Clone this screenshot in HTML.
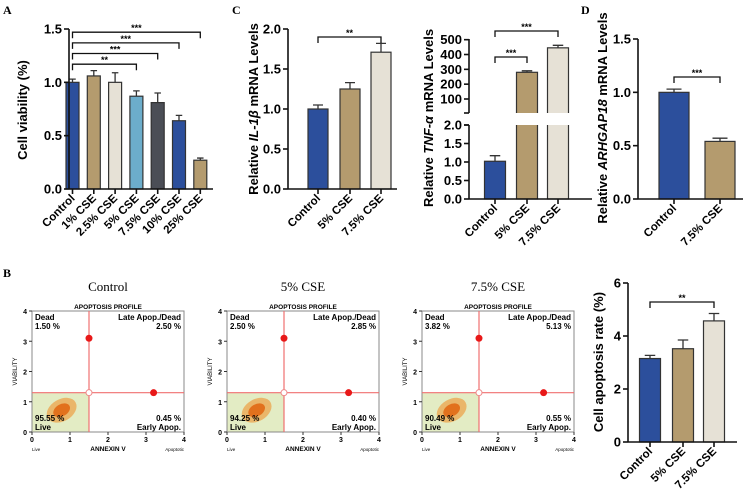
<!DOCTYPE html>
<html><head><meta charset="utf-8"><style>
body{margin:0;background:#fff}
svg{display:block;font-family:"Liberation Sans",Arial,sans-serif}
</style></head><body>
<svg id="s" width="753" height="499" viewBox="0 0 753 499"></svg>
<script>
// Panel A data
const aCats=["Control","1% CSE","2.5% CSE","5% CSE","7.5% CSE","10% CSE","25% CSE"];
const aVals=[1.0,1.06,1.0,0.87,0.81,0.64,0.27];
const aErr=[0.03,0.05,0.09,0.05,0.09,0.05,0.02];
const aTicks=[0,0.5,1.0,1.5];
// Panel C IL-1b
const cCats=["Control","5% CSE","7.5% CSE"];
const cVals=[1.0,1.25,1.71];
const cErr=[0.05,0.08,0.11];
const cTicks=[0,0.5,1.0,1.5,2.0];
// Panel C TNF-a
const tVals=[1.02,280,445];
const tErr=[0.15,10,17];
const tTicksLow=[0,0.5,1.0,1.5,2.0];
const tTicksHigh=[100,200,300,400,500];
// Panel D
const dCats=["Control","7.5% CSE"];
const dVals=[1.0,0.54];
const dErr=[0.03,0.03];
const dTicks=[0,0.5,1.0,1.5];
// Apoptosis rate
const rVals=[3.15,3.52,4.57];
const rErr=[0.12,0.33,0.28];
const rTicks=[0,2,4,6];
// Flow cytometry quadrant values
const flowTitles=["Control","5% CSE","7.5% CSE"];
const flowDead=["1.50 %","2.50 %","3.82 %"];
const flowLate=["2.50 %","2.85 %","5.13 %"];
const flowLive=["95.55 %","94.25 %","90.49 %"];
const flowEarly=["0.45 %","0.40 %","0.55 %"];

const S=document.getElementById('s');
const NS="http://www.w3.org/2000/svg";
function el(tag,attrs,parent){const e=document.createElementNS(NS,tag);for(const k in attrs)e.setAttribute(k,attrs[k]);(parent||S).appendChild(e);return e;}
function txt(x,y,t,attrs,parent){const e=el('text',Object.assign({x:x,y:y},attrs),parent);e.textContent=t;return e;}
const BLUE="#2c4f9c",TAN="#b49b6e",LIGHT="#e6e1d6",LBLUE="#6cadcb",DARK="#4b4e56";

function bars(g,xs,vals,errs,w,yf,colors){
  vals.forEach((v,i)=>{
    const x=xs[i],y0=yf(0),y=yf(v);
    const r=el('rect',{x:x-w/2,y:y,width:w,height:y0-y,fill:colors[i],stroke:"#333",'stroke-width':1.2},g);
    
    
    const ye=yf(v+errs[i]);
    el('path',{d:`M${x},${y}V${ye}M${x-w/4},${ye}H${x+w/4}`,stroke:"#333",'stroke-width':1.3,fill:'none'},g);
  });
}
function yaxis(g,x,ticks,yf,fmt,top,bot){
  el('line',{x1:x,x2:x,y1:top,y2:bot,stroke:"#111",'stroke-width':1.6},g);
  ticks.forEach(t=>{const y=yf(t);el('line',{x1:x-5,x2:x,y1:y,y2:y,stroke:"#111",'stroke-width':1.6},g);
    txt(x-7,y+4.5,fmt(t),{'text-anchor':'end','font-size':13,'font-weight':'bold'},g);});
}
function xaxis(g,x0,x1,y,xs,cats,fs){
  el('line',{x1:x0,x2:x1,y1:y,y2:y,stroke:"#111",'stroke-width':1.6},g);
  xs.forEach((x,i)=>{el('line',{x1:x,x2:x,y1:y,y2:y+5,stroke:"#111",'stroke-width':1.6},g);
    txt(x+3,y+10,cats[i],{'text-anchor':'end','font-size':fs,'font-weight':'bold',transform:`rotate(-45 ${x+3} ${y+10})`},g);});
}
function bracket(g,xa,xb,y,label){
  el('path',{d:`M${xa},${y+6}V${y}H${xb}V${y+6}`,stroke:"#111",'stroke-width':1.3,fill:'none'},g);
  txt((xa+xb)/2,y-1,label,{'text-anchor':'middle','font-size':9,'font-weight':'bold'},g);
}
function letter(x,y,t){txt(x,y,t,{'font-family':'"Liberation Serif",serif','font-weight':'bold','font-size':12});}

// Panel A
letter(3,14,"A");
{const g=el('g',{});
 const yf=v=>189-v*160/1.5; const xs=aCats.map((c,i)=>72.5+i*21.3);
 bars(g,xs,aVals,aErr,13,yf,[BLUE,TAN,LIGHT,LBLUE,DARK,BLUE,TAN]);
 yaxis(g,69,aTicks,yf,t=>t.toFixed(1),29,189);
 xaxis(g,69,213,189,xs,aCats,11.5);
 [[6,1.47],[5,1.37],[4,1.27],[3,1.17]].forEach((b,k)=>bracket(g,xs[0],xs[b[0]],yf(b[1]),k==3?"**":"***"));
 txt(27,110,"Cell viability (%)",{'text-anchor':'middle','font-size':13,'font-weight':'bold',transform:'rotate(-90 27 110)'},g);}

// Panel C IL-1b
letter(232,14,"C");
{const g=el('g',{});
 const yf=v=>189-v*80; const xs=[318,350,381];
 bars(g,xs,cVals,cErr,20,yf,[BLUE,TAN,LIGHT]);
 yaxis(g,288,cTicks,yf,t=>t.toFixed(1),29,189);
 xaxis(g,288,397,189,xs,cCats,11.5);
 bracket(g,xs[0],xs[2],yf(1.9),"**");
 const t=txt(258,109,"Relative ",{'text-anchor':'middle','font-size':13,'font-weight':'bold',transform:'rotate(-90 258 109)'},g);
 const s1=el('tspan',{'font-style':'italic'},t);s1.textContent="IL-1β";const s2=el('tspan',{},t);s2.textContent=" mRNA Levels";}

// Panel C TNF-a
{const g=el('g',{});
 const AX=469;
 const yl=v=>199-v*37; const yh=v=>99-(v-100)*0.1483;
 const yf=v=>v<=2.1?yl(v):yh(v);
 const xs=[495,527,558];
 bars(g,xs,tVals,tErr,21,yf,[BLUE,TAN,LIGHT]);
 el('rect',{x:480,y:113,width:95,height:12,fill:'#fff'},g);
 el('line',{x1:AX,x2:AX,y1:39,y2:113,stroke:"#111",'stroke-width':1.6},g);
 el('line',{x1:AX-5,x2:AX,y1:113,y2:113,stroke:"#111",'stroke-width':1.6},g);
 tTicksHigh.forEach(t=>{const y=yh(t);el('line',{x1:AX-5,x2:AX,y1:y,y2:y,stroke:"#111",'stroke-width':1.6},g);
   txt(AX-7,y+4.5,String(t),{'text-anchor':'end','font-size':13,'font-weight':'bold'},g);});
 yaxis(g,AX,tTicksLow,yl,t=>t.toFixed(1),125,199);
 el('line',{x1:AX-5,x2:AX,y1:125,y2:125,stroke:"#111",'stroke-width':1.6},g);
 xaxis(g,AX,592,199,xs,cCats,11.5);
 bracket(g,xs[0],xs[1],57,"***");
 bracket(g,xs[0],xs[2],31,"***");
 const t=txt(433,118,"Relative ",{'text-anchor':'middle','font-size':13,'font-weight':'bold',transform:'rotate(-90 433 118)'},g);
 const s1=el('tspan',{'font-style':'italic'},t);s1.textContent="TNF-α";const s2=el('tspan',{},t);s2.textContent=" mRNA Levels";}

// Panel D
letter(581,14,"D");
{const g=el('g',{});
 const yf=v=>199-v*160/1.5; const xs=[674,720];
 bars(g,xs,dVals,dErr,30,yf,[BLUE,TAN]);
 yaxis(g,638,dTicks,yf,t=>t.toFixed(1),39,199);
 xaxis(g,638,743,199,xs,dCats,11.5);
 bracket(g,xs[0],xs[1],77,"***");
 const t=txt(607,118,"Relative ",{'text-anchor':'middle','font-size':13,'font-weight':'bold',transform:'rotate(-90 607 118)'},g);
 const s1=el('tspan',{'font-style':'italic'},t);s1.textContent="ARHGAP18";const s2=el('tspan',{},t);s2.textContent=" mRNA Levels";}

// Panel B
letter(3,277,"B");
flowTitles.forEach((title,k)=>{
 const ox=k*195;
 const g=el('g',{});
 const L=32+ox,R=184+ox,T=311,B=432;
 const fx=v=>L+(R-L)*v/4, fy=v=>B-(B-T)*v/4;
 txt((L+R)/2,291,title,{'text-anchor':'middle','font-size':13,'font-family':'"Liberation Serif",serif'},g);
 txt((L+R)/2,309,"APOPTOSIS PROFILE",{'text-anchor':'middle','font-size':6.5,'font-weight':'bold'},g);
 el('rect',{x:L,y:fy(1.3),width:fx(1.5)-L,height:B-fy(1.3),fill:'#e3ecc4'},g);
 el('ellipse',{cx:fx(0.78),cy:fy(0.72),rx:16,ry:11,fill:'#f08a20',opacity:0.55,transform:`rotate(-30 ${fx(0.78)} ${fy(0.72)})`},g);
 el('ellipse',{cx:fx(0.78),cy:fy(0.72),rx:9,ry:6,fill:'#e0600a',opacity:0.8,transform:`rotate(-30 ${fx(0.78)} ${fy(0.72)})`},g);
 el('rect',{x:L,y:T,width:R-L,height:B-T,fill:'none',stroke:'#888','stroke-width':1},g);
 el('line',{x1:fx(1.5),x2:fx(1.5),y1:T,y2:B,stroke:'#f07070','stroke-width':1.2},g);
 el('line',{x1:L,x2:R,y1:fy(1.3),y2:fy(1.3),stroke:'#f07070','stroke-width':1.2},g);
 el('circle',{cx:fx(1.5),cy:fy(3.1),r:3.5,fill:'#e81818'},g);
 el('circle',{cx:fx(3.2),cy:fy(1.3),r:3.5,fill:'#e81818'},g);
 el('circle',{cx:fx(1.5),cy:fy(1.3),r:3,fill:'#fff',stroke:'#e88','stroke-width':1},g);
 [0,1,2,3,4].forEach(t=>{
   el('line',{x1:fx(t),x2:fx(t),y1:B,y2:B+3,stroke:'#333'},g);
   txt(fx(t),B+10,String(t),{'text-anchor':'middle','font-size':7,'font-weight':'bold'},g);
   el('line',{x1:L-3,x2:L,y1:fy(t),y2:fy(t),stroke:'#333'},g);
   txt(L-5,fy(t)+3,String(t),{'text-anchor':'end','font-size':7,'font-weight':'bold'},g);});
 txt((L+R)/2,B+19,"ANNEXIN V",{'text-anchor':'middle','font-size':6.5,'font-weight':'bold'},g);
 txt(L,B+19,"Live",{'font-size':4.5},g);
 txt(R,B+19,"Apoptotic",{'text-anchor':'end','font-size':4.5},g);
 txt(17+ox,fy(2),"VIABILITY",{'text-anchor':'middle','font-size':6,transform:`rotate(-90 ${17+ox} ${fy(2)})`},g);
 const f={'font-size':8,'font-weight':'bold'};
 txt(L+3,T+9,"Dead",f,g);txt(L+3,T+18,flowDead[k],f,g);
 txt(R-3,T+9,"Late Apop./Dead",Object.assign({'text-anchor':'end'},f),g);
 txt(R-3,T+18,flowLate[k],Object.assign({'text-anchor':'end'},f),g);
 txt(L+3,B-11,flowLive[k],f,g);txt(L+3,B-2,"Live",f,g);
 txt(R-3,B-11,flowEarly[k],Object.assign({'text-anchor':'end'},f),g);
 txt(R-3,B-2,"Early Apop.",Object.assign({'text-anchor':'end'},f),g);
});

// Apoptosis rate
{const g=el('g',{});
 const yf=v=>442-v*159/6; const xs=[650,683,714];
 bars(g,xs,rVals,rErr,21,yf,[BLUE,TAN,LIGHT]);
 yaxis(g,628,rTicks,yf,t=>String(t),283,442);
 xaxis(g,628,737,442,xs,cCats,11.5);
 bracket(g,xs[0],xs[2],302,"**");
 txt(603,362,"Cell apoptosis rate  (%)",{'text-anchor':'middle','font-size':13,'font-weight':'bold',transform:'rotate(-90 603 362)'},g);}
</script>
</body></html>
